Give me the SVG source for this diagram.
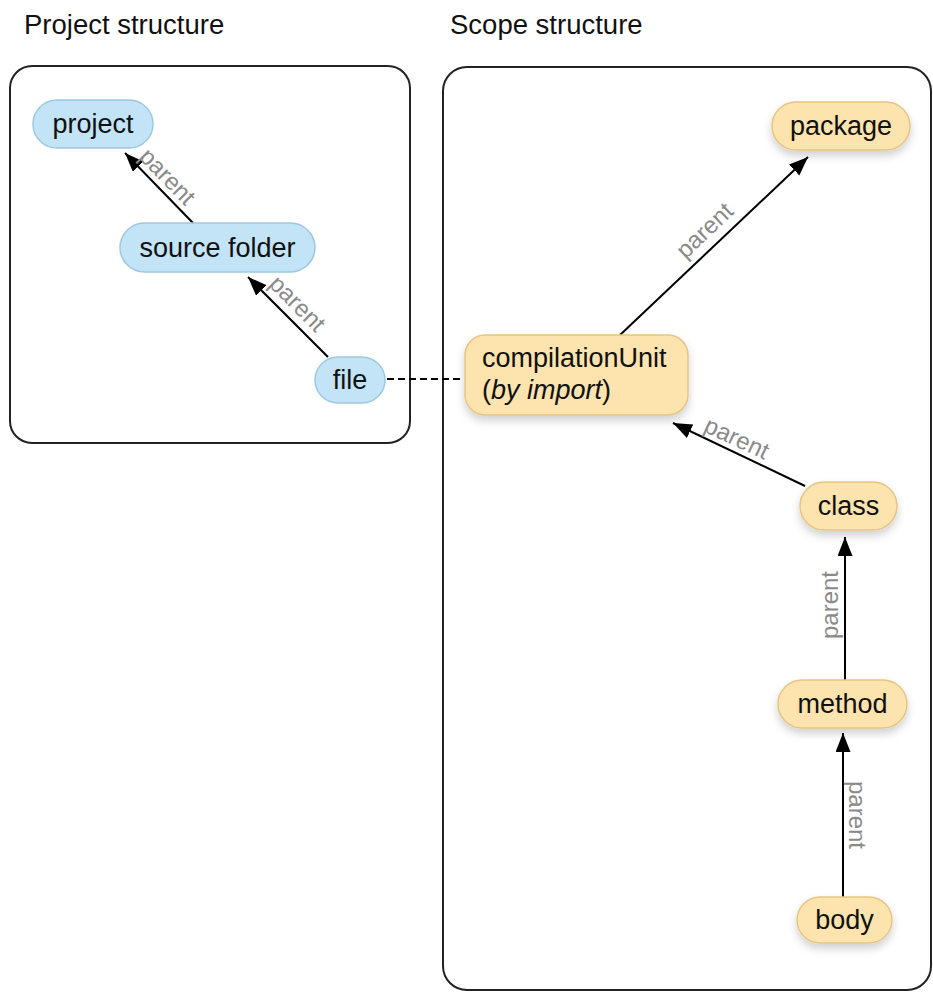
<svg xmlns="http://www.w3.org/2000/svg" width="933" height="992" viewBox="0 0 933 992">
  <defs>
    <marker id="arrow" markerUnits="userSpaceOnUse" markerWidth="20" markerHeight="16" refX="19" refY="7.5" orient="auto">
      <path d="M0,0 L19,7.5 L0,15 z" fill="#000"/>
    </marker>
    <filter id="shadow" x="-20%" y="-30%" width="140%" height="180%">
      <feDropShadow dx="0" dy="5" stdDeviation="4" flood-color="#000" flood-opacity="0.18"/>
    </filter>
    <style>
      .title { font-family: "Liberation Sans", Arial, sans-serif; font-size: 27.5px; fill: #111; }
      .frame { fill: #fff; stroke: #222; stroke-width: 2; }
      .blue { fill: #c3e3f6; stroke: #9fc8e0; stroke-width: 1.5; }
      .orange { fill: #fde3ad; stroke: #e5c585; stroke-width: 1.5; filter: url(#shadow); }
      .ntext { font-family: "Liberation Sans", Arial, sans-serif; font-size: 27px; fill: #111; text-anchor: middle; }
      .ltext { font-family: "Liberation Sans", Arial, sans-serif; font-size: 27px; fill: #111; }
      .edge { stroke: #000; stroke-width: 2; fill: none; marker-end: url(#arrow); }
      .dash { stroke: #000; stroke-width: 2; fill: none; stroke-dasharray: 7 4; }
      .lbl { font-family: "Liberation Sans", Arial, sans-serif; font-size: 24px; fill: #8a8a8a; text-anchor: middle; }
    </style>
  </defs>

  <rect width="933" height="992" fill="#fff"/>

  <!-- section headings -->
  <text class="title" x="24" y="34">Project structure</text>
  <text class="title" x="450" y="34">Scope structure</text>

  <!-- containers -->
  <rect id="project-frame" class="frame" x="10" y="66" width="400" height="377" rx="22"/>
  <rect id="scope-frame" class="frame" x="443" y="67" width="488" height="923" rx="24"/>

  <!-- connectors -->
  <g id="connectors">
    <line class="edge" x1="193" y1="223" x2="125" y2="153"/>
    <line class="edge" x1="328" y1="357" x2="248" y2="277"/>
    <line class="dash" x1="387" y1="379" x2="463" y2="379"/>
    <line class="edge" x1="620" y1="335" x2="808" y2="157"/>
    <line class="edge" x1="805" y1="486" x2="673" y2="423"/>
    <line class="edge" x1="845" y1="680" x2="845" y2="537"/>
    <line class="edge" x1="843" y1="897" x2="843" y2="733"/>

    <text class="lbl" transform="translate(166,178) rotate(46)" y="6">parent</text>
    <text class="lbl" transform="translate(296,305) rotate(45)" y="6">parent</text>
    <text class="lbl" transform="translate(706,232) rotate(-43.4)" y="6">parent</text>
    <text class="lbl" transform="translate(736,440) rotate(25)" y="6">parent</text>
    <text class="lbl" transform="translate(832,605) rotate(-90)" y="6">parent</text>
    <text class="lbl" transform="translate(855,815) rotate(90)" y="6">parent</text>
  </g>

  <!-- project structure nodes -->
  <g id="project">
    <rect class="blue" x="33" y="100" width="120" height="48" rx="24"/>
    <text class="ntext" x="93" y="133">project</text>
  </g>
  <g id="source-folder">
    <rect class="blue" x="120" y="223" width="195" height="49" rx="24.5"/>
    <text class="ntext" x="217.5" y="257">source folder</text>
  </g>
  <g id="file">
    <rect class="blue" x="315" y="357" width="70" height="46" rx="23"/>
    <text class="ntext" x="350" y="389">file</text>
  </g>

  <!-- scope structure nodes -->
  <g id="package">
    <rect class="orange" x="772" y="102" width="138" height="48" rx="24"/>
    <text class="ntext" x="841" y="135">package</text>
  </g>
  <g id="compilationUnit">
    <rect class="orange" x="465" y="335" width="223" height="80" rx="20"/>
    <text class="ltext" x="482" y="367">compilationUnit</text>
    <text class="ltext" x="482" y="399">(<tspan font-style="italic">by import</tspan>)</text>
  </g>
  <g id="class">
    <rect class="orange" x="800" y="482" width="97" height="48" rx="24"/>
    <text class="ntext" x="848.5" y="515">class</text>
  </g>
  <g id="method">
    <rect class="orange" x="778" y="680" width="129" height="48" rx="24"/>
    <text class="ntext" x="842.5" y="713">method</text>
  </g>
  <g id="body">
    <rect class="orange" x="797" y="897" width="95" height="46" rx="23"/>
    <text class="ntext" x="844.5" y="929">body</text>
  </g>
</svg>
